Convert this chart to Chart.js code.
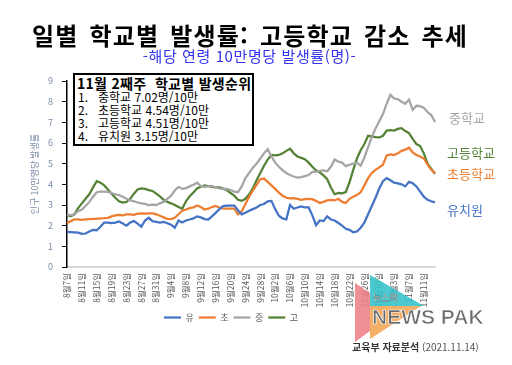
<!DOCTYPE html>
<html lang="ko">
<head>
<meta charset="utf-8">
<script src="https://cdn.jsdelivr.net/npm/chart.js@4"></script>
<style>
  body { margin: 0; background: #fff; }
  #wrap { position: relative; width: 512px; height: 365px; overflow: hidden; font-family: "Noto Sans CJK KR", sans-serif; }
  #chart { position: absolute; left: 0; top: 0; }
  .t { position: absolute; white-space: nowrap; line-height: 1; }
  #title { left: 0; width: 500px; top: 23px; text-align: center; font-size: 24px; font-weight: bold; color: #000; letter-spacing: 1.2px; word-spacing: 3px; }
  #sub { left: 0; width: 499px; top: 48px; text-align: center; font-size: 15px; color: #3333f0; letter-spacing: 0.6px; }
  #box { position: absolute; left: 73px; top: 73px; width: 181px; height: 73px; box-sizing: border-box; border: 2px solid #000; background: #fff; }
  .bh { font-size: 14px; font-weight: bold; color: #000; letter-spacing: 0.3px; }
  .bi { font-size: 12px; color: #000; }
  .side { font-size: 13px; }
  #src { left: 352px; top: 342px; font-size: 10px; color: #555; }
  #src b { color: #333; }
  svg { position: absolute; left: 0; top: 0; }
</style>
</head>
<body>
<div id="wrap">
  <canvas id="chart" width="512" height="365"></canvas>
  <div class="t" id="title">일별 학교별 발생률: 고등학교 감소 추세</div>
  <div class="t" id="sub">-해당 연령 10만명당 발생률(명)-</div>
  <div id="box"></div>
  <div class="t bh" style="left:77px; top:76px;">11월 2째주&nbsp; 학교별 발생순위</div>
  <div class="t bi" style="left:78px; top:91px;">1.</div>
  <div class="t bi" style="left:98px; top:91px;">중학교 7.02명/10만</div>
  <div class="t bi" style="left:78px; top:104px;">2.</div>
  <div class="t bi" style="left:98px; top:104px;">초등학교 4.54명/10만</div>
  <div class="t bi" style="left:78px; top:117px;">3.</div>
  <div class="t bi" style="left:98px; top:117px;">고등학교 4.51명/10만</div>
  <div class="t bi" style="left:78px; top:130px;">4.</div>
  <div class="t bi" style="left:98px; top:130px;">유치원 3.15명/10만</div>
  <div class="t side" style="left:449px; top:111px; color:#a5a5a5;">중학교</div>
  <div class="t side" style="left:447px; top:146px; color:#548235;">고등학교</div>
  <div class="t side" style="left:447px; top:167px; color:#ed7d31;">초등학교</div>
  <div class="t side" style="left:447px; top:203px; color:#4472c4;">유치원</div>
  <svg width="512" height="365">
    <polygon points="355,283 370,293 370,331 355,342" fill="#ee7f86" opacity="0.88"/>
    <polygon points="370,275 424,306 370,306" fill="#33c0c8" opacity="0.88"/>
    <polygon points="370,306 421,306 370,339" fill="#f4a452" opacity="0.88"/>
    <text x="372" y="324" font-family="Liberation Sans, sans-serif" font-size="21" font-weight="bold" fill="#6a6a6a" stroke="#fff" stroke-width="0.7">NEWS PAK</text>
    <text x="373" y="301" font-family="Noto Sans CJK KR, sans-serif" font-size="9" fill="#fff" stroke="#555" stroke-width="0.3">뉴스팍</text>
  </svg>
  <div class="t" id="src"><b>교육부 자료분석</b> (2021.11.14)</div>
</div>
<script>
const dayLabels = [
  '8월7일','8월8일','8월9일','8월10일','8월11일','8월12일','8월13일','8월14일','8월15일','8월16일',
  '8월17일','8월18일','8월19일','8월20일','8월21일','8월22일','8월23일','8월24일','8월25일','8월26일',
  '8월27일','8월28일','8월29일','8월30일','8월31일','9월1일','9월2일','9월3일','9월4일','9월5일',
  '9월6일','9월7일','9월8일','9월9일','9월10일','9월11일','9월12일','9월13일','9월14일','9월15일',
  '9월16일','9월17일','9월18일','9월19일','9월20일','9월21일','9월22일','9월23일','9월24일','9월25일',
  '9월26일','9월27일','9월28일','9월29일','9월30일','10월1일','10월2일','10월3일','10월4일','10월5일',
  '10월6일','10월7일','10월8일','10월9일','10월10일','10월11일','10월12일','10월13일','10월14일','10월15일',
  '10월16일','10월17일','10월18일','10월19일','10월20일','10월21일','10월22일','10월23일','10월24일','10월25일',
  '10월26일','10월27일','10월28일','10월29일','10월30일','10월31일','11월1일','11월2일','11월3일','11월4일',
  '11월5일','11월6일','11월7일','11월8일','11월9일','11월10일','11월11일','11월12일','11월13일','11월14일'
];

// 유치원
const kinder = [
  1.70,1.69,1.68,1.66,1.60,1.62,1.72,1.80,1.78,1.95,
  2.15,2.15,2.12,2.15,2.20,2.10,2.00,2.15,2.22,2.10,
  1.95,2.25,2.38,2.22,2.18,2.15,2.18,2.12,2.05,1.90,
  2.25,2.15,2.25,2.30,2.35,2.45,2.40,2.32,2.30,2.45,
  2.62,2.80,2.95,2.97,2.97,2.97,2.75,2.55,2.62,2.72,
  2.80,2.88,3.00,3.05,3.18,3.20,2.80,2.48,2.35,2.30,
  3.00,2.82,2.88,2.93,2.88,2.88,2.50,2.02,2.25,2.22,
  2.45,2.30,2.25,2.13,2.00,1.85,1.80,1.68,1.72,1.90,
  2.15,2.55,2.95,3.35,3.80,4.15,4.30,4.20,4.08,4.05,
  4.00,3.90,4.12,4.05,3.90,3.65,3.40,3.25,3.18,3.13
];
// 초등학교
const elem = [
  2.13,2.22,2.30,2.30,2.28,2.30,2.32,2.33,2.33,2.35,
  2.36,2.38,2.45,2.50,2.52,2.50,2.55,2.55,2.52,2.58,
  2.60,2.58,2.60,2.60,2.55,2.48,2.40,2.33,2.32,2.38,
  2.55,2.72,2.78,2.85,2.88,2.98,2.90,2.78,2.82,2.90,
  2.95,2.88,2.82,2.82,2.83,2.82,2.55,2.70,3.05,3.40,
  3.70,3.97,4.25,4.28,4.12,3.95,3.78,3.60,3.45,3.35,
  3.32,3.33,3.30,3.25,3.28,3.30,3.28,3.20,3.10,3.15,
  3.22,3.25,3.22,3.30,3.15,3.10,3.30,3.40,3.48,3.62,
  3.95,4.30,4.55,4.70,4.82,4.95,5.40,5.45,5.42,5.50,
  5.62,5.68,5.77,5.55,5.42,5.35,5.25,4.95,4.70,4.54
];
// 중학교
const middle = [
  2.55,2.50,2.55,2.70,2.78,2.95,3.15,3.40,3.62,3.65,
  3.65,3.63,3.58,3.52,3.48,3.40,3.30,3.22,3.18,3.12,
  3.08,3.05,3.00,3.02,3.00,3.08,3.15,3.30,3.45,3.70,
  3.88,3.78,3.82,3.90,3.98,4.08,3.92,3.88,3.90,3.92,
  3.85,3.80,3.77,3.78,3.72,3.65,3.62,3.90,4.30,4.55,
  4.80,5.00,5.25,5.50,5.70,5.35,5.05,4.85,4.68,4.55,
  4.45,4.38,4.33,4.35,4.40,4.45,4.60,4.62,4.65,4.67,
  4.63,4.85,5.20,5.10,5.05,4.88,4.95,5.00,5.05,4.90,
  5.30,5.80,6.30,6.70,7.05,7.40,7.90,8.33,8.15,8.12,
  8.00,7.90,8.10,7.60,7.80,7.78,7.70,7.50,7.35,7.02
];
// 고등학교
const high = [
  2.52,2.45,2.55,2.85,3.08,3.30,3.52,3.85,4.15,4.08,
  3.95,3.75,3.55,3.35,3.18,3.12,3.15,3.30,3.55,3.75,
  3.80,3.78,3.72,3.68,3.55,3.42,3.25,3.15,3.08,3.00,
  2.90,2.82,3.18,3.42,3.60,3.80,3.88,3.95,3.92,3.88,
  3.85,3.85,3.80,3.72,3.58,3.45,3.25,3.20,3.30,3.52,
  3.80,4.20,4.55,4.90,5.20,5.42,5.40,5.42,5.50,5.62,
  5.72,5.50,5.35,5.28,5.22,5.05,4.85,4.68,4.58,4.43,
  4.25,3.85,3.52,3.58,3.56,3.62,4.10,4.70,5.25,5.65,
  5.95,6.35,6.32,6.28,6.27,6.35,6.60,6.62,6.60,6.68,
  6.72,6.58,6.48,6.20,5.95,5.85,5.50,5.00,4.75,4.51
];

const seriesNames = ['유', '초', '중', '고'];
const seriesColors = ['#4472c4', '#ed7d31', '#a5a5a5', '#548235'];
const seriesData = [kinder, elem, middle, high];

Chart.defaults.font.family = '"Noto Sans CJK KR", sans-serif';

new Chart(document.getElementById('chart'), {
  type: 'line',
  data: {
    labels: dayLabels,
    datasets: seriesData.map((d, i) => ({
      label: seriesNames[i],
      data: d,
      borderColor: seriesColors[i],
      backgroundColor: seriesColors[i],
      borderWidth: 2.25,
      pointRadius: 0,
      tension: 0
    }))
  },
  options: {
    responsive: false,
    animation: false,
    devicePixelRatio: 1,
    layout: { padding: { left: 27, right: 77, top: 81, bottom: 33 } },
    plugins: {
      legend: {
        position: 'bottom',
        labels: {
          usePointStyle: true,
          pointStyle: 'line',
          pointStyleWidth: 17,
          padding: 5,
          color: '#595959',
          font: { size: 9 }
        }
      },
      tooltip: { enabled: false }
    },
    scales: {
      x: {
        grid: { display: false, drawTicks: false },
        border: { color: '#d9d9d9', width: 2 },
        ticks: {
          autoSkip: false,
          minRotation: 90,
          maxRotation: 90,
          padding: 6,
          color: '#595959',
          font: { size: 8.5 },
          callback: function (v, i) { return i % 4 === 0 ? this.getLabelForValue(v) : ''; }
        },
        afterFit: s => { s.height = 41; }
      },
      y: {
        min: 0,
        max: 9,
        ticks: { stepSize: 1, padding: 9, color: '#7a8ba8', font: { size: 9 } },
        grid: { drawOnChartArea: false, drawTicks: true, tickLength: 5, color: '#000' },
        border: { color: '#000', width: 1.5 },
        title: { display: true, text: '인구 10만명당 발생률', color: '#7a8ba8', font: { size: 9 }, padding: { top: 2, bottom: 0 } },
        afterFit: s => { s.width = 40; }
      }
    }
  }
});
</script>
</body>
</html>
